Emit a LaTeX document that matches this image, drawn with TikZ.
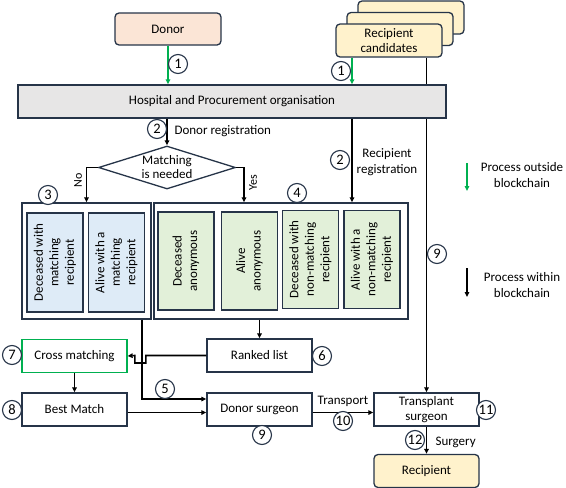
\documentclass[tikz,border=0pt]{standalone}
\usepackage{fontspec}
\setmainfont{Carlito}
\usetikzlibrary{positioning,shapes.geometric,arrows.meta}
\definecolor{navy}{RGB}{38,52,72}
\definecolor{okgreen}{RGB}{0,176,80}
\definecolor{donorfill}{RGB}{251,229,214}
\definecolor{recfill}{RGB}{255,242,204}
\definecolor{barfill}{RGB}{231,230,230}
\definecolor{bluefill}{RGB}{222,235,247}
\definecolor{greenfill}{RGB}{226,240,217}
\pgfdeclarelayer{back}
\pgfsetlayers{back,main}
\begin{document}
\begin{tikzpicture}[x=1pt,y=-1pt,on grid,font=\fontsize{13}{15.5}\selectfont,
    box/.style={draw=navy,line width=1.3pt,minimum width=105pt,minimum height=33pt,align=center,inner sep=1pt},
    start/.style={box,rounded corners=4pt},
    group/.style={draw=navy,line width=1.3pt},
    vbox/.style={draw=navy,line width=1.3pt,rotate=90,minimum width=98pt,minimum height=56pt,align=center,inner sep=1pt},
    num/.style={circle,draw=navy,line width=1.1pt,fill=white,inner sep=0pt,minimum size=19pt,font=\fontsize{14.5}{14.5}\selectfont},
    flow/.style={-{Triangle[length=5pt,width=4.5pt]},line width=1.6pt},
    ext/.style={flow,draw=okgreen,fill=okgreen}]
    \useasboundingbox (0,0) rectangle (566,488);
    \node[start,fill=donorfill,minimum width=106pt,minimum height=32pt] (donor) at (168,29) {Donor};
    \node[start,fill=recfill,minimum width=106pt] (rc3) at (411,17.5) {};
    \node[start,fill=recfill,minimum width=106pt] (rc2) at (400,29) {};
    \node[start,fill=recfill,minimum width=106pt] (rc1) at (389,40.5) {Recipient\\candidates};
    \node[box,fill=barfill,minimum width=428pt] (hosp) at (232,101.5) {Hospital and Procurement organisation};
    \node[diamond,draw=navy,line width=1.3pt,minimum width=137pt,minimum height=43pt,inner sep=0pt] (match) at (167,167.5) {};
    \node[align=center,font=\fontsize{13}{14}\selectfont] (matchtxt) at (match) {Matching\\is needed};
    \node[group,minimum width=129pt,minimum height=116pt] (lg) at (86.5,261) {};
    \node[group,minimum width=254pt,minimum height=116pt] (rg) at (281,261) {};
    \node[vbox,fill=bluefill,minimum width=99pt] (dm) at (55,262.5) {Deceased with\\matching\\recipient};
    \node[vbox,fill=bluefill,minimum width=99pt] (am) at (116.5,262.5) {Alive with a\\matching\\recipient};
    \node[vbox,fill=greenfill] (da) at (186,261) {Deceased\\anonymous};
    \node[vbox,fill=greenfill] (aa) at (249.5,261) {Alive\\anonymous};
    \node[vbox,fill=greenfill] (dn) at (310.5,259.5) {Deceased with\\non-matching\\recipient};
    \node[vbox,fill=greenfill] (an) at (372,259.5) {Alive with a\\non-matching\\recipient};
    \node[box,draw=okgreen] (cm) at (74.5,356) {Cross matching};
    \node[box] (best) [below=53.5pt of cm] {Best Match};
    \node[box] (ds) [right=185pt of best] {Donor surgeon};
    \node[box] (rl) [above=54pt of ds] {Ranked list};
    \node[box] (ts) [right=167pt of ds] {Transplant\\surgeon};
    \node[start,fill=recfill] (rec) [below=61.5pt of ts] {Recipient};
    \coordinate (rx) at (352,0);

    \draw[ext] (donor) -- (hosp.north -| donor);
    \draw[ext] (rc1.south -| rx) -- (hosp.north -| rx);
    \begin{pgfonlayer}{back}
    \draw[flow] (rc1.south -| ts.north) -- (ts.north);
    \end{pgfonlayer}
    \draw[flow] (hosp.south -| match.north) -- (match.north);
    \draw[flow] (hosp.south -| rx) -- (rg.north -| rx);
    \draw[flow] (match.west) -| (lg.north);
    \draw[flow] (match.east) -| ([xshift=-37pt]rg.north);
    \draw[flow] (rg.south -| rl.north) -- (rl.north);
    \draw[flow] (rl.west) -- ++(-60.5,0) -- ++(0,7.5) -- ++(-11,0) -- ++(0,-7.5) -- (cm.east);
    \draw[flow] (cm) -- (best);
    \draw[flow] ([xshift=55.5pt]lg.south) |- ([yshift=10.5pt]ds.west);
    \draw[flow] ([yshift=-3pt]best.east) -- ([yshift=-3pt]ds.west);
    \draw[flow] ([yshift=-3pt]ds.east) -- ([yshift=-3pt]ts.west);
    \draw[flow] (ts) -- (rec);

    \node[anchor=west] (dreg) at (171,131) {Donor registration};
    \node[align=center,font=\fontsize{13}{16}\selectfont] (rreg) at (387,162) {Recipient\\registration};
    \node[rotate=90,font=\fontsize{12}{12}\selectfont] (no) at (78,180) {No};
    \node[rotate=90,font=\fontsize{12}{12}\selectfont] (yes) at (253,183) {Yes};
    \node (trans) at (343,401) {Transport};
    \node[anchor=west] (surg) at (432,442) {Surgery};

    \node[num] (n1a) at (178,64) {1};
    \node[num] (n1b) at (341,71) {1};
    \node[num] (n2a) at (157,129) {2};
    \node[num] (n2b) at (340,160) {2};
    \node[num] (n3) at (48,195) {3};
    \node[num] (n4) at (297,193) {4};
    \node[num] (n5) at (165,389) {5};
    \node[num] (n6) at (322,356) {6};
    \node[num] (n7) at (12,355) {7};
    \node[num] (n8) at (12,410) {8};
    \node[num] (n9a) at (262,435) {9};
    \node[num] (n9b) at (437,254) {9};
    \node[num] (n10) at (343,421) {10};
    \node[num] (n11) at (486,410) {11};
    \node[num] (n12) at (415,440) {12};

    \coordinate (leg1) at (467,163);
    \coordinate (leg2) at (467,268);
    \draw[ext] (leg1) -- ++(0,28);
    \draw[flow] (leg2) -- ++(0,29);
    \node[align=center] (legtxt1) at (522,175) {Process outside\\blockchain};
    \node[align=center] (legtxt2) at (522,285) {Process within\\blockchain};
\end{tikzpicture}
\end{document}
